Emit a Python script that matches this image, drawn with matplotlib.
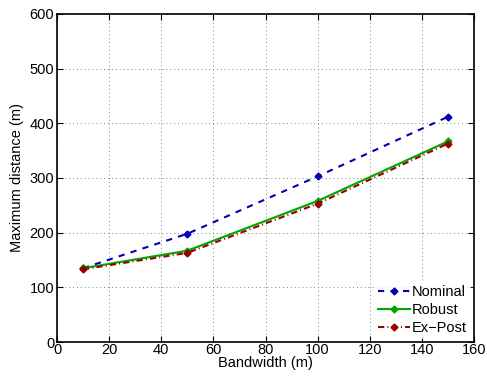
import matplotlib.pyplot as plt

plt.rcParams['font.family'] = ['Liberation Sans', 'DejaVu Sans']
plt.rcParams['font.size'] = 10.5

bandwidth = [10, 50, 100, 150]
nominal = [135, 198, 303, 412]
robust = [135, 167, 258, 367]
ex_post = [133, 163, 253, 363]

fig = plt.figure(figsize=(4.87, 3.79), dpi=100)
ax = fig.add_axes([57 / 487, 1 - 342 / 379, (474 - 57) / 487, (342 - 14) / 379])

ax.plot(bandwidth, nominal, color=(0, 0, 0.7), linestyle=(0, (3, 3)), marker='D',
        markersize=3.5, linewidth=1.5, label='Nominal')
ax.plot(bandwidth, robust, '-', color=(0, 0.65, 0), marker='D', markersize=3.5,
        linewidth=1.5, label='Robust')
ax.plot(bandwidth, ex_post, color=(0.6, 0, 0), linestyle=(0, (3, 1.5, 0.5, 1.5)),
        marker='D', markersize=3.5, linewidth=1.5, label='Ex\u2212Post')

ax.set_xlim(0, 160)
ax.set_ylim(0, 600)
ax.set_xticks(range(0, 161, 20))
ax.set_yticks(range(0, 601, 100))
ax.grid(True, linestyle=(0, (1, 3)), color='0.5', linewidth=0.7)
ax.tick_params(direction='in', length=4, top=True, right=True)
ax.tick_params(axis='x', pad=1)
ax.tick_params(axis='y', pad=2)
for s in ax.spines.values():
    s.set_linewidth(1.2)

ax.set_xlabel('Bandwidth (m)', labelpad=-1)
ax.set_ylabel('Maximum distance (m)', labelpad=4)

leg = ax.legend(loc='lower right', frameon=True, fancybox=False, edgecolor='white',
                borderpad=0.3, handlelength=2.2, handletextpad=0.1, labelspacing=0.25,
                borderaxespad=0.2)
leg.get_frame().set_linewidth(0)

fig.savefig('out.png', dpi=100)
